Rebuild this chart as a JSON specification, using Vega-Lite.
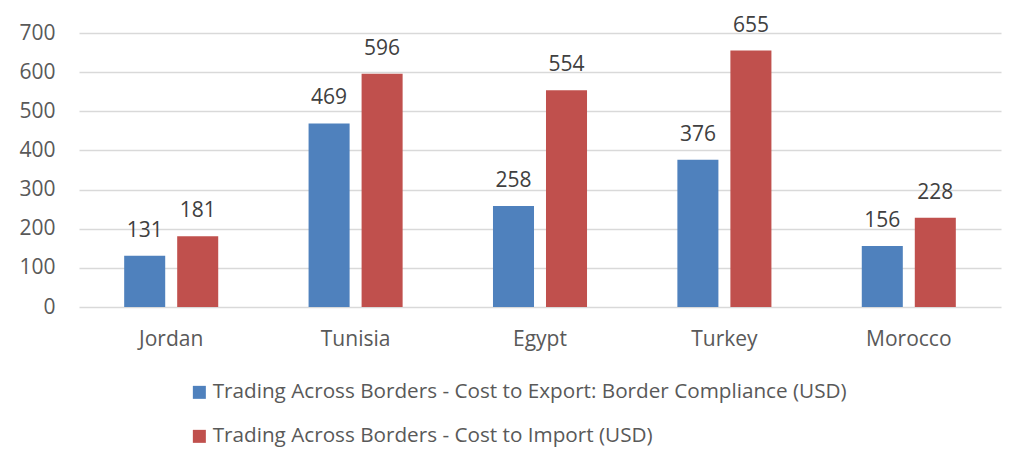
{
  "$schema": "https://vega.github.io/schema/vega-lite/v6.json",
  "width": 922,
  "height": 274,
  "autosize": {"type": "none"},
  "padding": {"left": 79, "top": 33, "right": 31, "bottom": 163},
  "background": "white",
  "data": {
    "values": [
      {"country": "Jordan", "series": "Trading Across Borders - Cost to Export: Border Compliance (USD)", "value": 131},
      {"country": "Jordan", "series": "Trading Across Borders - Cost to Import (USD)", "value": 181},
      {"country": "Tunisia", "series": "Trading Across Borders - Cost to Export: Border Compliance (USD)", "value": 469},
      {"country": "Tunisia", "series": "Trading Across Borders - Cost to Import (USD)", "value": 596},
      {"country": "Egypt", "series": "Trading Across Borders - Cost to Export: Border Compliance (USD)", "value": 258},
      {"country": "Egypt", "series": "Trading Across Borders - Cost to Import (USD)", "value": 554},
      {"country": "Turkey", "series": "Trading Across Borders - Cost to Export: Border Compliance (USD)", "value": 376},
      {"country": "Turkey", "series": "Trading Across Borders - Cost to Import (USD)", "value": 655},
      {"country": "Morocco", "series": "Trading Across Borders - Cost to Export: Border Compliance (USD)", "value": 156},
      {"country": "Morocco", "series": "Trading Across Borders - Cost to Import (USD)", "value": 228}
    ]
  },
  "encoding": {
    "x": {
      "field": "country", "type": "nominal", "sort": ["Jordan", "Tunisia", "Egypt", "Turkey", "Morocco"],
      "scale": {"paddingInner": 0.49, "paddingOuter": 0.245},
      "axis": {"title": null, "labelAngle": 0, "domain": false, "ticks": false, "labelPadding": 21, "labelFontSize": 21, "labelColor": "#595959", "labelFont": "Open Sans"}
    },
    "xOffset": {
      "field": "series", "type": "nominal",
      "scale": {"paddingInner": 0.226, "paddingOuter": 0}
    },
    "y": {
      "field": "value", "type": "quantitative",
      "scale": {"domain": [0, 700]},
      "axis": {"title": null, "values": [0, 100, 200, 300, 400, 500, 600, 700], "domain": false, "ticks": false, "labelPadding": 24, "labelFontSize": 21, "labelColor": "#595959", "labelFont": "Open Sans", "gridColor": "#D9D9D9", "gridWidth": 1.3}
    }
  },
  "layer": [
    {
      "mark": {"type": "bar"},
      "encoding": {
        "color": {
          "field": "series", "type": "nominal",
          "scale": {"range": ["#4F81BD", "#C0504D"]},
          "legend": {
            "title": null, "orient": "none", "legendX": 110, "legendY": 349, "direction": "vertical",
            "symbolType": "square", "symbolSize": 169, "symbolStrokeWidth": 0, "symbolOpacity": 1,
            "labelFontSize": 20.7, "labelColor": "#595959", "labelFont": "Open Sans", "labelLimit": 900,
            "rowPadding": 22, "labelOffset": 3
          }
        }
      }
    },
    {
      "mark": {"type": "text", "baseline": "bottom", "dy": -15, "fontSize": 21, "font": "Open Sans", "color": "#404040"},
      "encoding": {"text": {"field": "value", "type": "quantitative"}}
    }
  ],
  "config": {"view": {"stroke": null}}
}
